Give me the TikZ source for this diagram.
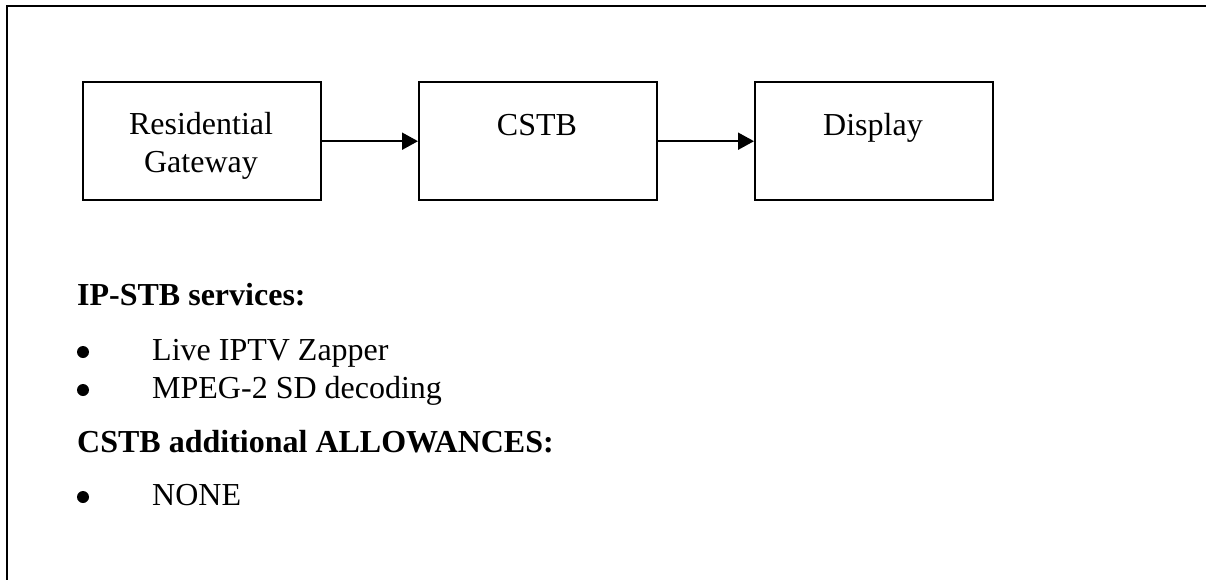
\documentclass[tikz,border=0pt]{standalone}
\usepackage{fontspec}
\setmainfont{Liberation Serif}
\usetikzlibrary{arrows.meta}
\begin{document}
\begin{tikzpicture}[x=1pt,y=-1pt,
  box/.style={draw, line width=2.4pt, minimum width=238pt, minimum height=118pt, inner sep=0pt, anchor=north west},
  lbl/.style={font=\fontsize{32}{36.8}\selectfont, inner sep=0pt, anchor=base},
  txt/.style={font=\fontsize{32}{36.8}\selectfont, inner sep=0pt, anchor=base west},
  hdr/.style={font=\fontsize{32}{36.8}\selectfont\bfseries, inner sep=0pt, anchor=base west},
  dot/.style={circle, fill=black, inner sep=0pt, minimum size=12pt},
  conn/.style={line width=2pt, -{Triangle[length=16pt,width=17pt]}}]
\useasboundingbox (0,0) rectangle (1206,580);
\coordinate (fb) at (7,580);
\coordinate (fc) at (7,6);
\coordinate (fr) at (1206,6);
\draw[line width=2.2pt] (fb) -- (fc) -- (fr);
\node[box] (rg) at (82,81) {};
\node[box] (cstb) at (418,81) {};
\node[box] (disp) at (754,81) {};
\node[lbl] (rgt1) at (201,135) {Residential};
\node[lbl] (rgt2) at (201,172) {Gateway};
\node[lbl] (cstbt) at (537,136) {CSTB};
\node[lbl] (dispt) at (873,136) {Display};
\draw[conn] (rg) -- (cstb);
\draw[conn] (cstb) -- (disp);
\node[hdr] (h1) at (77,305) {IP-STB services:};
\node[dot] (b1) at (83,352) {};
\node[txt] (l1) at (152,360) {Live IPTV Zapper};
\node[dot] (b2) at (83,390) {};
\node[txt] (l2) at (152,398) {MPEG-2 SD decoding};
\node[hdr] (h2) at (77,452) {CSTB additional ALLOWANCES:};
\node[dot] (b3) at (83,497) {};
\node[txt] (l3) at (152,505) {NONE};
\end{tikzpicture}
\end{document}
